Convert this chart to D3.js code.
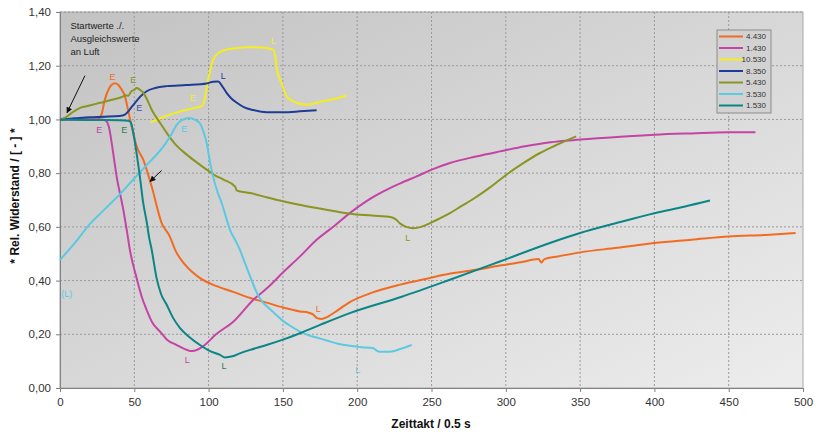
<!DOCTYPE html>
<html>
<head>
<meta charset="utf-8">
<script src="https://cdn.jsdelivr.net/npm/d3@7"></script>
<style>
  body { margin: 0; background: #fff; }
  svg { display: block; font-family: "Liberation Sans", Arial, sans-serif; }
</style>
</head>
<body>
<svg id="chart" width="816" height="432"></svg>
<script>
// values: x = Zeittakt, y = rel. Widerstand
const xTicks = [0, 50, 100, 150, 200, 250, 300, 350, 400, 450, 500];
const yTicks = [0, 0.2, 0.4, 0.6, 0.8, 1.0, 1.2, 1.4];

const t4430 = [0, 25, 28, 30, 33, 35, 37, 39, 41, 43.7, 46, 48, 51.6, 56, 61.7, 68.4, 74, 77.4, 84, 94, 105, 116.6, 128, 139, 150, 161.5, 167, 170, 173, 176, 180, 187, 195, 210, 229, 245, 262, 280, 296, 310, 322, 324, 326, 335, 350, 375, 400, 425, 450, 475, 495];
const w4430 = [1.0, 1.0, 1.02, 1.07, 1.115, 1.13, 1.135, 1.13, 1.115, 1.086, 1.03, 0.98, 0.9, 0.85, 0.75, 0.614, 0.563, 0.515, 0.46, 0.41, 0.38, 0.358, 0.335, 0.318, 0.3, 0.285, 0.281, 0.275, 0.26, 0.257, 0.265, 0.29, 0.32, 0.355, 0.385, 0.405, 0.425, 0.44, 0.456, 0.468, 0.48, 0.467, 0.48, 0.49, 0.505, 0.522, 0.54, 0.552, 0.564, 0.57, 0.577];

const t1430 = [0, 28, 31, 33, 34.8, 38.1, 42.6, 44.9, 47, 51.6, 55, 58.3, 62, 67.3, 72, 78.5, 84, 87.5, 91, 96, 105, 116.6, 130, 140, 150, 161.5, 172.7, 185, 195, 206, 217.6, 229, 240, 251, 262.4, 280, 296, 313, 330, 350, 375, 400, 425, 450, 468];
const w1430 = [1.0, 1.0, 0.995, 0.97, 0.912, 0.788, 0.664, 0.589, 0.515, 0.409, 0.34, 0.291, 0.245, 0.21, 0.18, 0.16, 0.145, 0.138, 0.14, 0.154, 0.2, 0.247, 0.328, 0.375, 0.43, 0.49, 0.552, 0.605, 0.651, 0.695, 0.732, 0.762, 0.788, 0.815, 0.838, 0.862, 0.881, 0.9, 0.915, 0.925, 0.935, 0.943, 0.948, 0.952, 0.952];

const t10530 = [61, 70, 80, 90, 95.5, 97.5, 99, 101, 103, 106, 112, 118, 125, 131, 138, 143.5, 145, 146, 149, 152.5, 156, 159.3, 166, 175, 185, 193];
const w10530 = [0.989, 1.01, 1.028, 1.042, 1.05, 1.08, 1.13, 1.18, 1.222, 1.245, 1.26, 1.265, 1.269, 1.269, 1.267, 1.26, 1.23, 1.186, 1.136, 1.086, 1.07, 1.062, 1.055, 1.065, 1.077, 1.089];

const t8350 = [0, 10, 20, 30, 40, 43.7, 46, 48, 50.5, 54, 58.3, 64, 71.8, 85, 98.7, 103, 106.5, 109, 112, 115, 119, 124, 130, 139, 150, 161.5, 172.7];
const w8350 = [1.0, 1.004, 1.008, 1.01, 1.013, 1.018, 1.03, 1.045, 1.062, 1.085, 1.105, 1.117, 1.124, 1.128, 1.134, 1.14, 1.141, 1.125, 1.1, 1.08, 1.062, 1.045, 1.035, 1.027, 1.027, 1.03, 1.034];

const t5430 = [0, 4.5, 8, 13.5, 20, 27, 35, 42.6, 44, 46, 48, 50, 51.6, 53.8, 56, 58.5, 61.7, 67, 71.8, 78, 85.3, 92, 98.7, 104, 110, 117.8, 119, 128, 139, 150, 161, 172.7, 184, 195, 210, 223, 226, 229, 233, 237.8, 243, 249, 255, 262.4, 270, 277, 289.4, 300.6, 312, 323, 333, 341, 347.3];
const w5430 = [1.0, 1.01, 1.025, 1.043, 1.052, 1.062, 1.073, 1.086, 1.09, 1.088, 1.105, 1.11, 1.117, 1.11, 1.1, 1.075, 1.036, 0.99, 0.95, 0.905, 0.869, 0.84, 0.813, 0.793, 0.776, 0.75, 0.735, 0.726, 0.71, 0.695, 0.682, 0.67, 0.659, 0.649, 0.642, 0.636, 0.628, 0.612, 0.6, 0.595, 0.6, 0.614, 0.63, 0.651, 0.677, 0.7, 0.747, 0.795, 0.838, 0.875, 0.902, 0.922, 0.937];

const t3530 = [0, 10, 20, 30, 40, 50, 60, 66, 71, 75, 78.5, 82, 87, 91, 94.2, 96.5, 98.7, 101, 103, 106, 108.8, 111.5, 114.4, 118, 121, 124.5, 128, 132, 136, 139, 144, 150, 156, 161.5, 167, 172.7, 180, 187, 195, 203, 210.8, 213, 215, 222, 229, 236.7];
const w3530 = [0.477, 0.54, 0.61, 0.665, 0.72, 0.78, 0.84, 0.875, 0.91, 0.945, 0.98, 0.997, 1.005, 0.998, 0.985, 0.955, 0.912, 0.84, 0.788, 0.73, 0.689, 0.64, 0.589, 0.55, 0.515, 0.465, 0.415, 0.36, 0.322, 0.305, 0.28, 0.25, 0.228, 0.21, 0.197, 0.188, 0.176, 0.165, 0.157, 0.152, 0.148, 0.14, 0.135, 0.135, 0.145, 0.16];

const t1530 = [0, 20, 40, 46, 47.5, 49, 50.5, 53.8, 56, 58.3, 60, 61.7, 65, 68, 71.8, 76, 80.8, 87, 94.2, 100, 107.7, 111, 116, 121, 128, 139, 150, 161.5, 175, 195, 230, 262.4, 296, 329.7, 350, 375, 400, 420, 437.4];
const w1530 = [1.0, 0.998, 0.997, 0.995, 0.99, 0.96, 0.912, 0.785, 0.689, 0.62, 0.56, 0.515, 0.409, 0.35, 0.31, 0.262, 0.223, 0.19, 0.16, 0.14, 0.123, 0.114, 0.118, 0.129, 0.142, 0.16, 0.18, 0.204, 0.235, 0.279, 0.34, 0.403, 0.471, 0.54, 0.577, 0.615, 0.651, 0.675, 0.698];

const seriesNames = ["4.430", "1.430", "10.530", "8.350", "5.430", "3.530", "1.530"];
const seriesTimes = [t4430, t1430, t10530, t8350, t5430, t3530, t1530];
const seriesValues = [w4430, w1430, w10530, w8350, w5430, w3530, w1530];
const seriesColors = ["#f26b21", "#c444a6", "#f5ee1e", "#1e3c96", "#8a9522", "#5bc9e1", "#0b8585"];

// E / L marks on the curves (data coordinates)
const markTexts = ["E", "L", "E", "L", "E", "L", "E", "L", "E", "L", "E", "L", "E", "L", "(L)"];
const markX = [35.4, 173.8, 26.4, 85.7, 89.3, 143.5, 53.4, 109.9, 49.3, 234, 83.6, 200.3, 43.3, 110.4, 4.5];
const markY = [1.158, 0.293, 0.959, 0.104, 1.08, 1.291, 1.043, 1.161, 1.148, 0.558, 0.965, 0.067, 0.959, 0.082, 0.349];
const markColors = ["#f26b21", "#f26b21", "#c444a6", "#c444a6", "#f5ee1e", "#f5ee1e", "#3a4fb0", "#1e3c96", "#8a9522", "#8a9522", "#5bc9e1", "#5bc9e1", "#1a8a45", "#1a8a45", "#5bc9e1"];

const noteLines = ["Startwerte ./.", "Ausgleichswerte", "an Luft"];

const margin = { top: 12, right: 13, bottom: 44, left: 60 };
const width = 816 - margin.left - margin.right;
const height = 432 - margin.top - margin.bottom;

const svg = d3.select("#chart");
const g = svg.append("g").attr("transform", `translate(${margin.left},${margin.top})`);

const x = d3.scaleLinear().domain([0, 500]).range([0, width]);
const y = d3.scaleLinear().domain([0, 1.4]).range([height, 0]);

// plot background
const grad = svg.append("defs").append("linearGradient")
    .attr("id", "bg").attr("x1", 0).attr("y1", 0).attr("x2", 1).attr("y2", 1);
grad.append("stop").attr("offset", "0%").attr("stop-color", "#c2c2c2");
grad.append("stop").attr("offset", "100%").attr("stop-color", "#ededed");

g.append("rect").attr("width", width).attr("height", height)
    .attr("fill", "url(#bg)").attr("stroke", "#a8a8a8");

// grid
g.append("g").selectAll("line").data(xTicks.slice(1, -1)).enter().append("line")
    .attr("x1", d => x(d)).attr("x2", d => x(d)).attr("y1", 0).attr("y2", height)
    .attr("stroke", "#9a9a9a").attr("stroke-dasharray", "2,2");
g.append("g").selectAll("line").data(yTicks.slice(1)).enter().append("line")
    .attr("x1", 0).attr("x2", width).attr("y1", d => y(d)).attr("y2", d => y(d))
    .attr("stroke", "#9a9a9a").attr("stroke-dasharray", "2,2");

// axes
const comma = d => d3.format(".2f")(d).replace(".", ",");
const xAxis = g.append("g").attr("transform", `translate(0,${height})`)
    .call(d3.axisBottom(x).tickValues(xTicks).tickSize(4).tickPadding(6));
const yAxis = g.append("g")
    .call(d3.axisLeft(y).tickValues(yTicks).tickFormat(comma).tickSize(4).tickPadding(5));
[xAxis, yAxis].forEach(a => {
    a.select(".domain").attr("stroke", "#808080");
    a.selectAll(".tick line").attr("stroke", "#808080");
    a.selectAll("text").attr("font-size", "11.5px").attr("fill", "#333")
        .attr("font-family", "'Liberation Sans', Arial, sans-serif");
});

// lines
const line = d3.line().x(d => x(d[0])).y(d => y(d[1])).curve(d3.curveMonotoneX);
seriesNames.forEach((name, i) => {
    const pts = seriesTimes[i].map((t, j) => [t, seriesValues[i][j]]);
    g.append("path").datum(pts)
        .attr("fill", "none")
        .attr("stroke", seriesColors[i])
        .attr("stroke-width", 2)
        .attr("stroke-linejoin", "round")
        .attr("d", line);
});

// E / L marks
g.append("g").selectAll("text").data(markTexts).enter().append("text")
    .attr("x", (d, i) => x(markX[i]))
    .attr("y", (d, i) => y(markY[i]))
    .attr("text-anchor", "middle")
    .attr("dominant-baseline", "central")
    .attr("font-size", "9px")
    .attr("fill", (d, i) => markColors[i])
    .text(d => d);

// note + arrows
svg.append("defs").append("marker")
    .attr("id", "head").attr("viewBox", "0 0 10 10").attr("refX", 9).attr("refY", 5)
    .attr("markerWidth", 6).attr("markerHeight", 6).attr("orient", "auto")
    .append("path").attr("d", "M0,0L10,5L0,10z").attr("fill", "#111");

g.append("g").selectAll("text").data(noteLines).enter().append("text")
    .attr("x", x(7)).attr("y", (d, i) => y(1.335) + i * 13)
    .attr("font-size", "9.5px").attr("fill", "#222")
    .text(d => d);

const arrows = [[16.8, 1.163, 4.7, 1.025], [68.4, 0.81, 60.6, 0.769]];
g.append("g").selectAll("line").data(arrows).enter().append("line")
    .attr("x1", d => x(d[0])).attr("y1", d => y(d[1]))
    .attr("x2", d => x(d[2])).attr("y2", d => y(d[3]))
    .attr("stroke", "#111").attr("stroke-width", 1)
    .attr("marker-end", "url(#head)");

// legend
const legend = svg.append("g").attr("transform", "translate(717,30)");
legend.append("rect").attr("width", 54).attr("height", 83)
    .attr("fill", "#d2d2d2").attr("stroke", "#8c8c8c");
seriesNames.forEach((name, i) => {
    const ly = 6.5 + i * 11.5;
    legend.append("line").attr("x1", 2).attr("x2", 26).attr("y1", ly).attr("y2", ly)
        .attr("stroke", seriesColors[i]).attr("stroke-width", 2);
    legend.append("text").attr("x", 49).attr("y", ly).attr("text-anchor", "end")
        .attr("dominant-baseline", "central").attr("font-size", "8px").attr("fill", "#333")
        .text(name);
});

// axis titles
svg.append("text")
    .attr("transform", "translate(15,196) rotate(-90)")
    .attr("text-anchor", "middle").attr("dominant-baseline", "central")
    .attr("font-size", "12px").attr("font-weight", "bold").attr("fill", "#111")
    .text("* Rel. Widerstand / [ - ] *");
svg.append("text")
    .attr("x", 431).attr("y", 424)
    .attr("text-anchor", "middle").attr("dominant-baseline", "central")
    .attr("font-size", "12px").attr("font-weight", "bold").attr("fill", "#111")
    .text("Zeittakt / 0.5 s");
</script>
</body>
</html>
